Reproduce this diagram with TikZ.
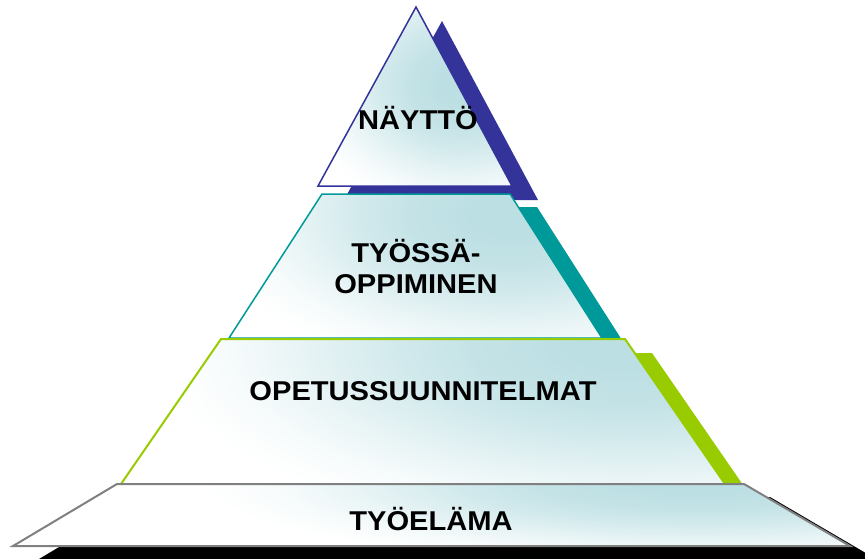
\documentclass[tikz,border=0pt]{standalone}
\usepackage{fontspec}
\newfontfamily\lblfont{Liberation Sans}[FakeStretch=1.07]
\definecolor{navyc}{RGB}{51,51,153}
\definecolor{tealc}{RGB}{0,153,153}
\definecolor{limec}{RGB}{153,204,0}
\definecolor{grayc}{RGB}{128,128,128}
\definecolor{glowc}{RGB}{188,223,227}
\pgfdeclareradialshading{glowshade}{\pgfpoint{0bp}{0bp}}{color(0bp)=(glowc); color(1.5bp)=(glowc); color(4bp)=(glowc!88!white); color(6bp)=(glowc!68!white); color(8bp)=(glowc!42!white); color(10bp)=(glowc!18!white); color(11.5bp)=(glowc!5!white); color(12.5bp)=(white); color(50bp)=(white)}
\begin{document}
\begin{tikzpicture}[x=1pt,y=-1pt,
  lbl/.style={font=\lblfont\bfseries\fontsize{27.2}{33}\selectfont, anchor=base, inner sep=0pt},
  tier/.style={fill=white, line width=1.5pt, line join=miter}
]
\path[use as bounding box] (0,0) rectangle (865,559);
\clip (0,0) rectangle (865,559);

% level 1: triangle
\fill[navyc] (442,21) -- (538,200) -- (344,200) -- cycle;
\path[tier, draw=navyc, path picture={\shade[shading=glowshade] (462,85) ellipse [x radius=330, y radius=260];}]
  (416,7) -- (512,186) -- (318,186) -- cycle;

% level 2
\fill[tealc] (349,207) -- (537,207) -- (629,351) -- (256,351) -- cycle;
\path[tier, draw=tealc, path picture={\shade[shading=glowshade] (510,215) ellipse [x radius=620, y radius=320];}]
  (322,194) -- (510,194) -- (602,338) -- (229,338) -- cycle;

% level 3
\fill[limec] (248,353) -- (652,353) -- (752,498) -- (148,498) -- cycle;
\path[tier, draw=limec, line width=2pt, path picture={\shade[shading=glowshade] (630,345) ellipse [x radius=960, y radius=380];}]
  (221,339) -- (625,339) -- (725,484) -- (121,484) -- cycle;

% level 4
\fill[black] (143,497) -- (770,497) -- (876,559) -- (39,559) -- cycle;
\path[tier, draw=grayc, line width=2pt, path picture={\shade[shading=glowshade] (700,482) ellipse [x radius=1000, y radius=170];}]
  (117,484) -- (744,484) -- (850,546) -- (13,546) -- cycle;

\node[lbl] (t1) at (418,130) {NÄYTTÖ};
\node[lbl] (t2a) at (416,262) {TYÖSSÄ-};
\node[lbl] (t2b) at (416,293) {OPPIMINEN};
\node[lbl] (t3) at (423,400) {OPETUSSUUNNITELMAT};
\node[lbl] (t4) at (431,530) {TYÖELÄMA};
\end{tikzpicture}
\end{document}
